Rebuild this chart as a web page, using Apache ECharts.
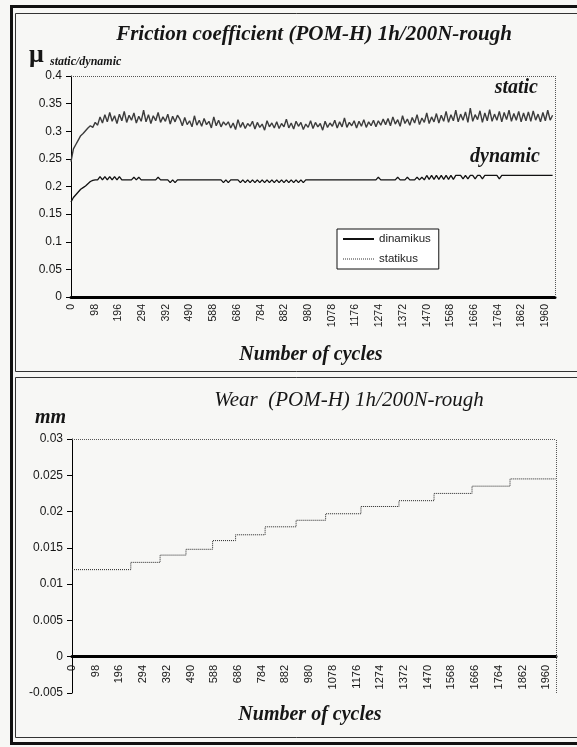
<!DOCTYPE html>
<html>
<head>
<meta charset="utf-8">
<script src="https://cdn.jsdelivr.net/npm/echarts@6/dist/echarts.min.js"></script>
<style>
    html, body { margin: 0; padding: 0; background: #f7f7f5; }
    #chart { width: 577px; height: 747px; }
</style>
</head>
<body>
<div id="chart"></div>
<script>
// friction curves every 10 cycles
const sampleStep = 10;

// statikus (static friction coefficient)
const staticMu = [
    0.245, 0.268, 0.276, 0.284, 0.292, 0.296, 0.301, 0.306, 0.31, 0.307, 0.316, 0.311,
    0.326, 0.315, 0.33, 0.317, 0.334, 0.318, 0.328, 0.314, 0.331, 0.319, 0.336, 0.316,
    0.329, 0.32, 0.333, 0.315, 0.327, 0.318, 0.338, 0.317, 0.33, 0.314, 0.328, 0.319,
    0.334, 0.316, 0.326, 0.318, 0.331, 0.313, 0.327, 0.317, 0.329,
    0.322, 0.31, 0.325, 0.312, 0.319, 0.308, 0.328, 0.311, 0.32, 0.309,
    0.323, 0.312, 0.318, 0.306, 0.326, 0.31, 0.32, 0.308, 0.317, 0.311,
    0.317, 0.306, 0.315, 0.303, 0.321, 0.307, 0.316, 0.305, 0.314, 0.309,
    0.318, 0.304, 0.316, 0.307, 0.313, 0.302, 0.319, 0.308, 0.315, 0.306,
    0.317, 0.305, 0.314, 0.308, 0.322, 0.306, 0.315, 0.304, 0.318, 0.309,
    0.316, 0.303, 0.313, 0.307, 0.319, 0.305, 0.316, 0.308, 0.314, 0.302,
    0.318, 0.307, 0.315, 0.309, 0.32, 0.306, 0.317, 0.308, 0.324, 0.307,
    0.316, 0.31, 0.319, 0.306, 0.318, 0.309, 0.321, 0.307, 0.317, 0.31,
    0.32, 0.308, 0.319, 0.311, 0.322,
    0.312, 0.323, 0.31, 0.326, 0.313, 0.321, 0.309, 0.328, 0.314, 0.322,
    0.311, 0.325, 0.315, 0.33, 0.312, 0.324, 0.316, 0.333, 0.314, 0.326,
    0.317, 0.332, 0.315, 0.329, 0.318, 0.336, 0.316, 0.33, 0.319, 0.338,
    0.317, 0.331, 0.32, 0.335, 0.316, 0.342, 0.318, 0.33, 0.321, 0.337,
    0.316, 0.333, 0.319, 0.339, 0.318, 0.331, 0.32, 0.336, 0.317, 0.334,
    0.321, 0.338, 0.318, 0.332, 0.32, 0.336, 0.317, 0.333, 0.319, 0.335,
    0.318, 0.337, 0.32, 0.331, 0.317, 0.334, 0.319, 0.338, 0.32, 0.329
];

// dinamikus (dynamic friction coefficient)
const dynamicMu = [
    0.172, 0.18, 0.185, 0.19, 0.195, 0.198, 0.201, 0.205, 0.209, 0.211, 0.212, 0.212,
    0.218, 0.212, 0.218, 0.212, 0.218, 0.212, 0.218, 0.212, 0.218, 0.212,
    0.212, 0.212, 0.212, 0.212, 0.217, 0.212, 0.217, 0.212, 0.212, 0.212, 0.212, 0.212, 0.212, 0.212,
    0.217, 0.212, 0.212, 0.212, 0.212, 0.207, 0.212, 0.207,
    0.212, 0.212, 0.212, 0.212, 0.212, 0.212, 0.212, 0.212, 0.212, 0.212,
    0.212, 0.212, 0.212, 0.212, 0.212, 0.212, 0.212, 0.212, 0.212,
    0.207, 0.212, 0.207, 0.212, 0.212, 0.212, 0.212,
    0.207, 0.212, 0.207, 0.212, 0.207, 0.212, 0.207, 0.212, 0.207, 0.212,
    0.207, 0.212, 0.207, 0.212, 0.207, 0.212, 0.207, 0.212, 0.207, 0.212,
    0.207, 0.212, 0.207, 0.212, 0.207, 0.212, 0.207,
    0.212, 0.212, 0.212, 0.212, 0.212, 0.212, 0.212, 0.212, 0.212, 0.212,
    0.212, 0.212, 0.212, 0.212, 0.212, 0.212, 0.212, 0.212, 0.212, 0.212,
    0.212, 0.212, 0.212, 0.212, 0.212, 0.212, 0.212, 0.212, 0.212, 0.212,
    0.217, 0.212, 0.212, 0.212, 0.212, 0.212, 0.212, 0.212, 0.217, 0.212, 0.212, 0.212,
    0.217, 0.212, 0.212, 0.212, 0.217, 0.212, 0.217, 0.212,
    0.22, 0.213, 0.22, 0.213, 0.22, 0.213, 0.22, 0.213, 0.22, 0.213, 0.22, 0.213, 0.22,
    0.22, 0.22, 0.214, 0.22, 0.214, 0.22, 0.22, 0.214, 0.22, 0.22, 0.214,
    0.22, 0.22, 0.22, 0.22, 0.22, 0.22, 0.214,
    0.22, 0.22, 0.22, 0.22, 0.22, 0.22, 0.22, 0.22, 0.22, 0.22, 0.22,
    0.22, 0.22, 0.22, 0.22, 0.22, 0.22, 0.22, 0.22, 0.22, 0.22, 0.22
];

// wear steps: cycle where each new level starts, and the level in mm
const wearCycles = [0, 243, 364, 471, 581, 676, 798, 926, 1048, 1194, 1351, 1496, 1653, 1810, 1999];
const wearMm = [0.012, 0.013, 0.014, 0.0148, 0.016, 0.0168, 0.0179, 0.0188, 0.0197, 0.0207, 0.0215, 0.0225, 0.0235, 0.0245, 0.0245];

const cycleStep = 98;
const cycleMax = 2000;

const serif = '"Liberation Serif", "Times New Roman", serif';
const sans = '"Liberation Sans", Arial, sans-serif';
const ink = '#161616';

const chart = echarts.init(document.getElementById('chart'));

// labels hang just under the zero line, so margin is counted from the grid bottom
function cycleAxis(gridIndex, labelSize, margin) {
    return {
        type: 'value',
        gridIndex: gridIndex,
        min: 0,
        max: cycleMax,
        interval: cycleStep,
        axisLine: { onZero: true, onZeroAxisIndex: gridIndex, lineStyle: { color: '#000', width: 3 } },
        axisTick: { show: false },
        splitLine: { show: false },
        axisLabel: {
            rotate: 90,
            margin: margin,
            fontFamily: sans,
            fontSize: labelSize,
            color: ink,
            showMaxLabel: false,
            formatter: v => (v % cycleStep === 0 ? String(v) : '')
        }
    };
}

function valueAxis(gridIndex, min, max, interval, digits) {
    return {
        type: 'value',
        gridIndex: gridIndex,
        min: min,
        max: max,
        interval: interval,
        axisLine: { show: true, onZero: false, lineStyle: { color: '#000', width: 1 } },
        axisTick: { show: true, length: 5, lineStyle: { color: '#000' } },
        splitLine: { show: false },
        axisLabel: {
            margin: 9,
            fontFamily: sans,
            fontSize: 12,
            color: ink,
            formatter: v => String(+v.toFixed(digits))
        }
    };
}

const borderLine = { type: 'dotted', color: '#555', width: 1 };

const option = {
    animation: false,
    backgroundColor: '#f7f7f5',
    grid: [
        { left: 71, top: 76, width: 484, height: 221 },
        { left: 72, top: 439, width: 484, height: 254 }
    ],
    xAxis: [cycleAxis(0, 10.5, 7), cycleAxis(1, 11, -28)],
    yAxis: [valueAxis(0, 0, 0.4, 0.05, 2), valueAxis(1, -0.005, 0.03, 0.005, 3)],
    legend: {
        left: 337,
        top: 229,
        orient: 'vertical',
        data: [
            { name: 'dinamikus' },
            { name: 'statikus', lineStyle: { type: 'dotted', color: '#333', width: 1 } }
        ],
        itemWidth: 31,
        itemHeight: 10,
        itemGap: 8,
        padding: [4, 8, 4, 5],
        borderColor: '#111',
        borderWidth: 1,
        borderRadius: 0,
        backgroundColor: '#fff',
        itemStyle: { opacity: 0 },
        textStyle: { fontFamily: sans, fontSize: 11.5, color: '#222' }
    },
    series: [
        {
            name: 'dinamikus',
            type: 'line',
            xAxisIndex: 0,
            yAxisIndex: 0,
            symbol: 'none',
            data: dynamicMu.map((v, i) => [i * sampleStep, v]),
            itemStyle: { color: '#111' },
            lineStyle: { color: '#111', width: 1.3 },
            z: 3
        },
        {
            name: 'statikus',
            type: 'line',
            xAxisIndex: 0,
            yAxisIndex: 0,
            symbol: 'none',
            data: staticMu.map((v, i) => [i * sampleStep, v]),
            itemStyle: { color: '#444' },
            lineStyle: { color: '#3c3c3c', width: 1.4 },
            markLine: {
                silent: true,
                symbol: 'none',
                label: { show: false },
                lineStyle: borderLine,
                data: [{ yAxis: 0.4 }, { xAxis: cycleMax }]
            },
            z: 2
        },
        {
            name: 'wear',
            type: 'line',
            xAxisIndex: 1,
            yAxisIndex: 1,
            symbol: 'none',
            step: 'end',
            data: wearCycles.map((c, i) => [c, wearMm[i]]),
            itemStyle: { color: '#222' },
            lineStyle: { color: '#222', width: 1, type: 'dotted' },
            markLine: {
                silent: true,
                symbol: 'none',
                label: { show: false },
                lineStyle: borderLine,
                data: [{ yAxis: 0.03 }, { yAxis: -0.005 }, { xAxis: cycleMax }]
            }
        }
    ],
    graphic: [
        // scanned page frames
        { type: 'rect', shape: { x: 11.5, y: 6.5, width: 600, height: 737 }, style: { fill: 'none', stroke: '#111', lineWidth: 3 }, silent: true },
        { type: 'rect', shape: { x: 15.5, y: 13.5, width: 600, height: 358 }, style: { fill: 'none', stroke: '#333', lineWidth: 1 }, silent: true },
        { type: 'rect', shape: { x: 15.5, y: 377.5, width: 600, height: 360 }, style: { fill: 'none', stroke: '#333', lineWidth: 1 }, silent: true },
        // titles and annotations
        { type: 'text', x: 314, y: 35, style: { text: 'Friction coefficient (POM-H) 1h/200N-rough', font: 'italic bold 21px ' + serif, fill: ink, align: 'center', verticalAlign: 'middle' } },
        { type: 'text', x: 29, y: 55, style: { text: 'μ', font: 'bold 26px ' + serif, fill: ink, align: 'left', verticalAlign: 'middle' } },
        { type: 'text', x: 50, y: 62, style: { text: 'static/dynamic', font: 'italic bold 12px ' + serif, fill: ink, align: 'left', verticalAlign: 'middle' } },
        { type: 'text', x: 538, y: 88, style: { text: 'static', font: 'italic bold 20px ' + serif, fill: ink, align: 'right', verticalAlign: 'middle' } },
        { type: 'text', x: 540, y: 157, style: { text: 'dynamic', font: 'italic bold 20px ' + serif, fill: ink, align: 'right', verticalAlign: 'middle' } },
        { type: 'text', x: 311, y: 355, style: { text: 'Number of cycles', font: 'italic bold 20px ' + serif, fill: ink, align: 'center', verticalAlign: 'middle' } },
        { type: 'text', x: 349, y: 400, style: { text: 'Wear  (POM-H) 1h/200N-rough', font: 'italic 21px ' + serif, fill: ink, align: 'center', verticalAlign: 'middle' } },
        { type: 'text', x: 35, y: 418, style: { text: 'mm', font: 'italic bold 20px ' + serif, fill: ink, align: 'left', verticalAlign: 'middle' } },
        { type: 'text', x: 310, y: 715, style: { text: 'Number of cycles', font: 'italic bold 20px ' + serif, fill: ink, align: 'center', verticalAlign: 'middle' } }
    ]
};

chart.setOption(option);
</script>
</body>
</html>
